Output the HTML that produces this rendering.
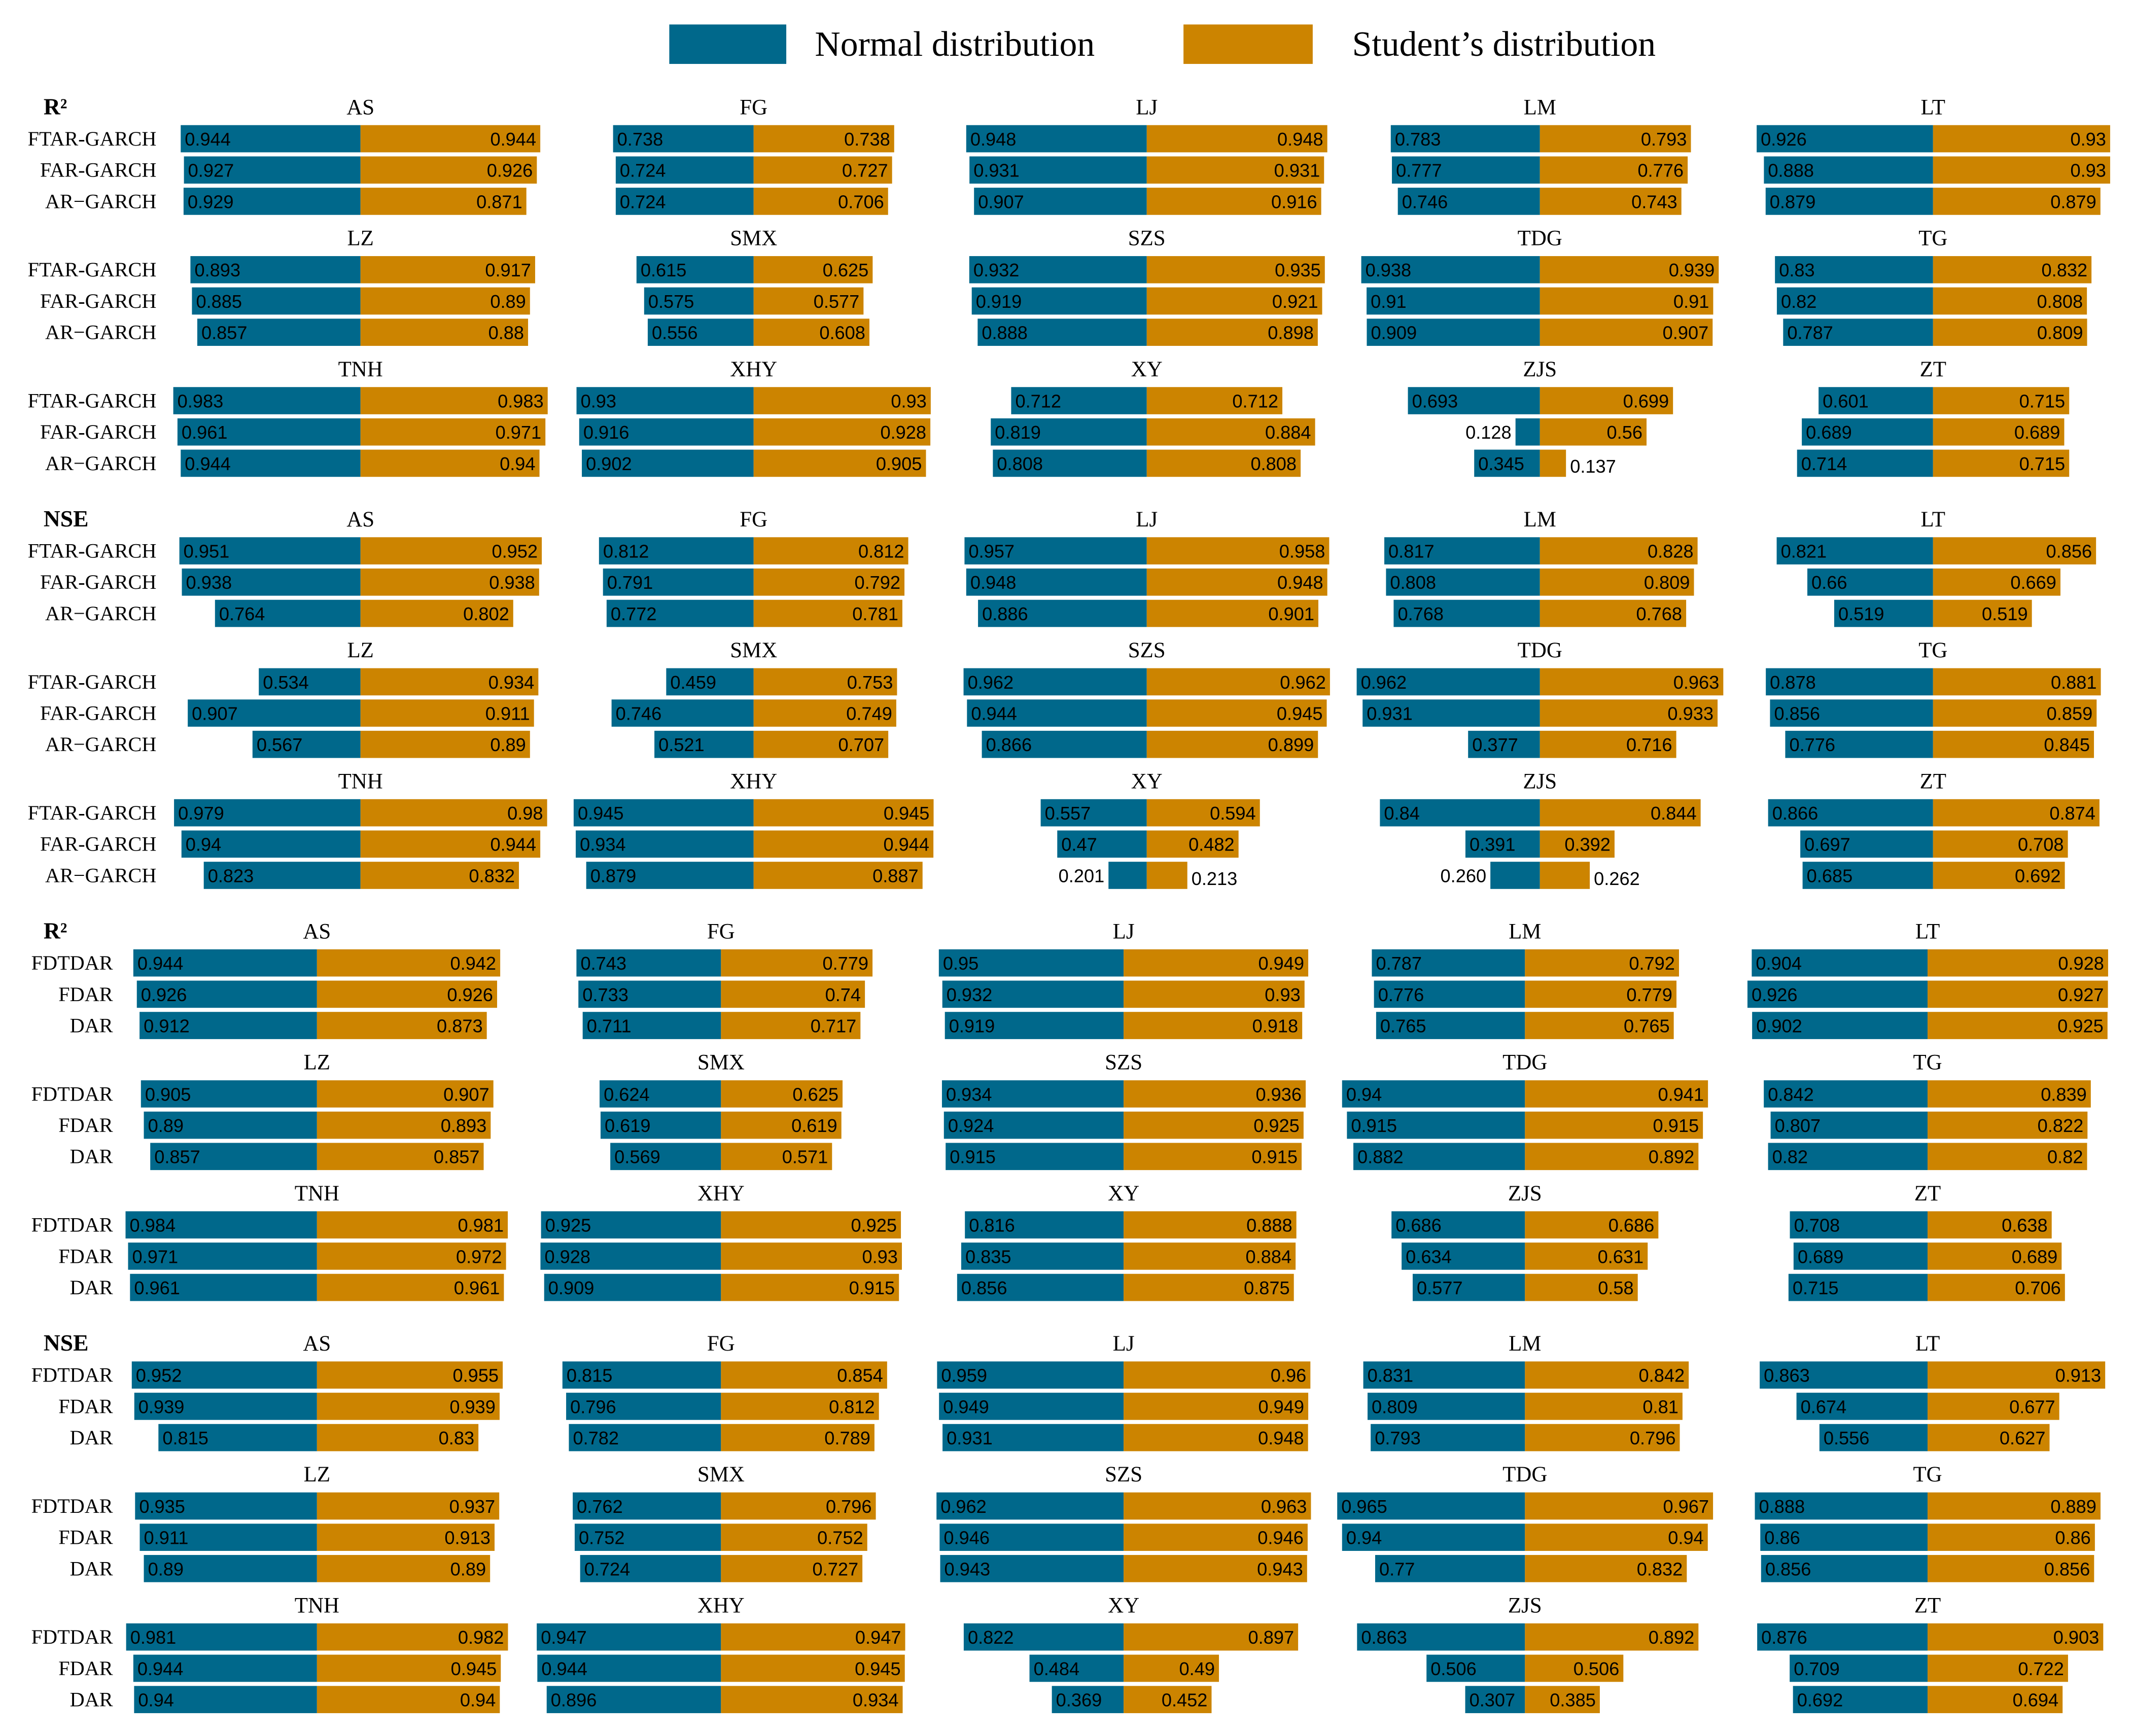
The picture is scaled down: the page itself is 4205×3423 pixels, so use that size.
<!DOCTYPE html>
<html><head><meta charset="utf-8"><style>
html,body{margin:0;padding:0;background:#fff;}
svg{display:block;}
.t{font-family:"Liberation Serif",serif;fill:#000;}
.v{font-family:"Liberation Sans",sans-serif;font-size:13.5px;fill:#000;}
</style></head><body>
<svg id="chart" width="4205" height="3423" viewBox="0 0 1568 1276.4" xmlns="http://www.w3.org/2000/svg">
<g>
<rect x="492" y="18" width="86" height="29" fill="#00688B"/>
<text class="t" x="599" y="41" font-size="26">Normal distribution</text>
<rect x="870" y="18" width="95" height="29" fill="#CC8400"/>
<text class="t" x="994" y="41" font-size="26">Student’s distribution</text>
</g>
</svg>
<script>
const panels=["AS","FG","LJ","LM","LT","LZ","SMX","SZS","TDG","TG","TNH","XHY","XY","ZJS","ZT"];
const modelsGarch=["FTAR-GARCH","FAR-GARCH","AR−GARCH"];
const modelsDar=["FDTDAR","FDAR","DAR"];
const metricLabels=["R²","NSE","R²","NSE"];
const s1Normal=[["0.944","0.927","0.929"],["0.738","0.724","0.724"],["0.948","0.931","0.907"],["0.783","0.777","0.746"],["0.926","0.888","0.879"],["0.893","0.885","0.857"],["0.615","0.575","0.556"],["0.932","0.919","0.888"],["0.938","0.91","0.909"],["0.83","0.82","0.787"],["0.983","0.961","0.944"],["0.93","0.916","0.902"],["0.712","0.819","0.808"],["0.693","0.128","0.345"],["0.601","0.689","0.714"]];
const s1Student=[["0.944","0.926","0.871"],["0.738","0.727","0.706"],["0.948","0.931","0.916"],["0.793","0.776","0.743"],["0.93","0.93","0.879"],["0.917","0.89","0.88"],["0.625","0.577","0.608"],["0.935","0.921","0.898"],["0.939","0.91","0.907"],["0.832","0.808","0.809"],["0.983","0.971","0.94"],["0.93","0.928","0.905"],["0.712","0.884","0.808"],["0.699","0.56","0.137"],["0.715","0.689","0.715"]];
const s2Normal=[["0.951","0.938","0.764"],["0.812","0.791","0.772"],["0.957","0.948","0.886"],["0.817","0.808","0.768"],["0.821","0.66","0.519"],["0.534","0.907","0.567"],["0.459","0.746","0.521"],["0.962","0.944","0.866"],["0.962","0.931","0.377"],["0.878","0.856","0.776"],["0.979","0.94","0.823"],["0.945","0.934","0.879"],["0.557","0.47","0.201"],["0.84","0.391","0.260"],["0.866","0.697","0.685"]];
const s2Student=[["0.952","0.938","0.802"],["0.812","0.792","0.781"],["0.958","0.948","0.901"],["0.828","0.809","0.768"],["0.856","0.669","0.519"],["0.934","0.911","0.89"],["0.753","0.749","0.707"],["0.962","0.945","0.899"],["0.963","0.933","0.716"],["0.881","0.859","0.845"],["0.98","0.944","0.832"],["0.945","0.944","0.887"],["0.594","0.482","0.213"],["0.844","0.392","0.262"],["0.874","0.708","0.692"]];
const s3Normal=[["0.944","0.926","0.912"],["0.743","0.733","0.711"],["0.95","0.932","0.919"],["0.787","0.776","0.765"],["0.904","0.926","0.902"],["0.905","0.89","0.857"],["0.624","0.619","0.569"],["0.934","0.924","0.915"],["0.94","0.915","0.882"],["0.842","0.807","0.82"],["0.984","0.971","0.961"],["0.925","0.928","0.909"],["0.816","0.835","0.856"],["0.686","0.634","0.577"],["0.708","0.689","0.715"]];
const s3Student=[["0.942","0.926","0.873"],["0.779","0.74","0.717"],["0.949","0.93","0.918"],["0.792","0.779","0.765"],["0.928","0.927","0.925"],["0.907","0.893","0.857"],["0.625","0.619","0.571"],["0.936","0.925","0.915"],["0.941","0.915","0.892"],["0.839","0.822","0.82"],["0.981","0.972","0.961"],["0.925","0.93","0.915"],["0.888","0.884","0.875"],["0.686","0.631","0.58"],["0.638","0.689","0.706"]];
const s4Normal=[["0.952","0.939","0.815"],["0.815","0.796","0.782"],["0.959","0.949","0.931"],["0.831","0.809","0.793"],["0.863","0.674","0.556"],["0.935","0.911","0.89"],["0.762","0.752","0.724"],["0.962","0.946","0.943"],["0.965","0.94","0.77"],["0.888","0.86","0.856"],["0.981","0.944","0.94"],["0.947","0.944","0.896"],["0.822","0.484","0.369"],["0.863","0.506","0.307"],["0.876","0.709","0.692"]];
const s4Student=[["0.955","0.939","0.83"],["0.854","0.812","0.789"],["0.96","0.949","0.948"],["0.842","0.81","0.796"],["0.913","0.677","0.627"],["0.937","0.913","0.89"],["0.796","0.752","0.727"],["0.963","0.946","0.943"],["0.967","0.94","0.832"],["0.889","0.86","0.856"],["0.982","0.945","0.94"],["0.947","0.945","0.934"],["0.897","0.49","0.452"],["0.892","0.506","0.385"],["0.903","0.722","0.694"]];

const NS="http://www.w3.org/2000/svg";
const svg=document.getElementById('chart');
function mk(tag,attrs,parent,txt){const e=document.createElementNS(NS,tag);for(const k in attrs)e.setAttribute(k,attrs[k]);if(txt!==undefined)e.textContent=txt;parent.appendChild(e);return e;}
const sections=[
 {normal:s1Normal,student:s1Student,models:modelsGarch,top:78,centers:[265,554,843,1132,1421],scale:140,labelX:115},
 {normal:s2Normal,student:s2Student,models:modelsGarch,top:381,centers:[265,554,843,1132,1421],scale:140,labelX:115},
 {normal:s3Normal,student:s3Student,models:modelsDar,top:684,centers:[233,530,826,1121,1417],scale:143,labelX:83},
 {normal:s4Normal,student:s4Student,models:modelsDar,top:987,centers:[233,530,826,1121,1417],scale:143,labelX:83}
];
const rowGap=96.3, barH=20;
sections.forEach((sec,si)=>{
 const g=mk('g',{},svg);
 
 
 const ml=mk('text',{class:'t',x:32,y:sec.top+6,'font-size':17,'font-weight':'bold'},g,metricLabels[si]);
 
 
 panels.forEach((p,pi)=>{
  const r=Math.floor(pi/5), c=pi%5;
  const ty=sec.top+r*rowGap;
  const cx=sec.centers[c];
  const pg=mk('g',{},g);
  
  
  const tt=mk('text',{class:'t',x:cx,y:ty+6,'font-size':16,'text-anchor':'middle'},pg,p);
  
  
  if(c===0){
   sec.models.forEach((m,mi)=>{
    const lt=mk('text',{class:'t',x:sec.labelX,y:ty+24+mi*23+5,'font-size':15,'text-anchor':'end'},pg,m);
    
    
   });
  }
  for(let mi=0;mi<3;mi++){
   const yc=ty+24+mi*23;
   const nStr=sec.normal[pi][mi], sStr=sec.student[pi][mi];
   const nw=parseFloat(nStr)*sec.scale, sw=parseFloat(sStr)*sec.scale;
   const nb=mk('rect',{x:cx-nw,y:yc-barH/2,width:nw,height:barH,fill:'#00688B'},pg);
   
   
   const sb=mk('rect',{x:cx,y:yc-barH/2,width:sw,height:barH,fill:'#CC8400'},pg);
   
   
   let nt;
   if(nw>=40) nt=mk('text',{class:'v',x:cx-nw+3,y:yc+5},pg,nStr);
   else nt=mk('text',{class:'v',x:cx-nw-3,y:yc+5,'text-anchor':'end'},pg,nStr);
   
   
   let st;
   if(sw>=40) st=mk('text',{class:'v',x:cx+sw-3,y:yc+5,'text-anchor':'end'},pg,sStr);
   else st=mk('text',{class:'v',x:cx+sw+3,y:yc+7},pg,sStr);
   
   
  }
 });
});
</script>
</body></html>
